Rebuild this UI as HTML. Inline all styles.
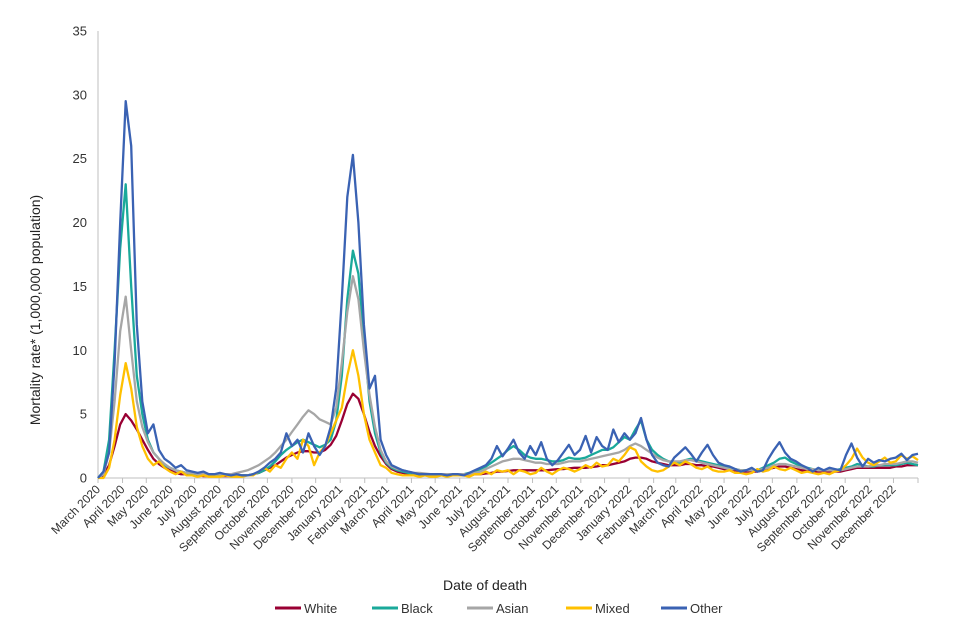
<!DOCTYPE html>
<html><head><meta charset="utf-8"><style>
body{margin:0;background:#fff;}
svg{display:block;font-family:"Liberation Sans",Arial,sans-serif;}
</style></head><body>
<svg id="chart" width="960" height="640">
<g id="axes"></g>
<g id="series"></g>
<text x="485" y="590" text-anchor="middle" font-size="14" fill="#222">Date of death</text>
<text transform="translate(40,310) rotate(-90)" text-anchor="middle" font-size="14" fill="#222">Mortality rate* (1,000,000 population)</text>
<g id="legend"></g>
</svg>
<script>
const months=["March 2020","April 2020","May 2020","June 2020","July 2020","August 2020","September 2020","October 2020","November 2020","December 2020","January 2021","February 2021","March 2021","April 2021","May 2021","June 2021","July 2021","August 2021","September 2021","October 2021","November 2021","December 2021","January 2022","February 2022","March 2022","April 2022","May 2022","June 2022","July 2022","August 2022","September 2022","October 2022","November 2022","December 2022"];
const monthStartDays=[0,31,61,92,122,153,184,214,245,275,306,337,365,396,426,457,487,518,549,579,610,640,671,702,730,761,791,822,852,883,914,944,975,1005,1036];
const yTicks=[0,5,10,15,20,25,30,35];
const seriesNames=["White","Black","Asian","Mixed","Other"];
const seriesColors=["#990033","#1aa99a","#a6a6a6","#ffc000","#3a62b3"];
const white=[0,0.2,1,2.5,4.2, 5,4.5,3.8,3, 2.2,1.5,1.1,0.8,0.6, 0.4,0.3,0.3,0.2, 0.2,0.15,0.15,0.15, 0.15,0.15,0.15,0.15,0.2, 0.2,0.3,0.4,0.6, 0.8,1.0,1.3,1.6, 1.8,2.0,2.1,2.1,2.0, 2.0,2.2,2.6,3.3, 4.5,5.8,6.6,6.2,5.0, 3.6,2.5,1.7,1.1, 0.7,0.5,0.4,0.3, 0.25,0.2,0.2,0.2, 0.2,0.2,0.2,0.2,0.2, 0.2,0.25,0.3,0.3, 0.35,0.4,0.5,0.5, 0.55,0.6,0.6,0.6,0.6, 0.6,0.6,0.6,0.65, 0.7,0.7,0.75,0.8, 0.8,0.8,0.85,0.9,1.0, 1.0,1.1,1.2,1.3, 1.5,1.6,1.6,1.5, 1.3,1.2,1.1,1.0, 1.0,1.0,1.1,1.1,1.0, 1.0,0.9,0.9,0.8, 0.7,0.6,0.6,0.5,0.5, 0.5,0.5,0.6,0.7, 0.8,0.9,0.9,0.8, 0.7,0.6,0.6,0.5,0.5, 0.5,0.5,0.5,0.5, 0.6,0.7,0.8,0.8, 0.8,0.8,0.8,0.8,0.8, 0.9,0.9,1.0,1.0,1.0];
const black=[0,0.5,3,10,18, 23,15,8,5, 3,2,1.5,1,0.8, 0.6,0.5,0.4,0.3, 0.3,0.2,0.2,0.2, 0.2,0.2,0.2,0.2,0.2, 0.2,0.3,0.4,0.6, 0.9,1.3,1.8,2.2, 2.5,2.8,3.0,2.8,2.6, 2.4,2.6,3.0,4.5, 8,14,17.8,16,11, 6,3.5,2,1.2, 0.8,0.6,0.5,0.4, 0.3,0.3,0.3,0.3, 0.3,0.3,0.3,0.3,0.3, 0.3,0.4,0.5,0.7, 0.9,1.2,1.5,1.8, 2.2,2.5,2.2,1.8,1.6, 1.5,1.5,1.4,1.3, 1.3,1.4,1.6,1.5, 1.5,1.6,1.8,2.0,2.2, 2.2,2.4,2.8,3.2, 3.0,3.8,4.5,3.0, 2.2,1.8,1.5,1.3, 1.2,1.2,1.4,1.5,1.4, 1.3,1.2,1.1,1.0, 0.9,0.8,0.7,0.6,0.6, 0.6,0.6,0.8,1.0, 1.2,1.5,1.6,1.3, 1.1,0.9,0.8,0.7,0.6, 0.6,0.6,0.6,0.7, 0.8,0.9,1.1,1.0, 0.9,0.9,1.0,1.0,1.0, 1.0,1.1,1.2,1.1,1.0];
const asian=[0,0.3,2,6,11.5, 14.2,10,6,4, 2.8,2.0,1.5,1.1,0.8, 0.6,0.5,0.4,0.4, 0.3,0.3,0.3,0.3, 0.3,0.3,0.3,0.4,0.5, 0.6,0.8,1.0,1.3, 1.6,2.0,2.5,3.0, 3.6,4.2,4.8,5.3,5.0, 4.6,4.4,4.2,5.5, 9,13,15.8,14,10, 6.5,4,2.2,1.3, 0.9,0.7,0.6,0.5, 0.4,0.4,0.35,0.3, 0.3,0.3,0.3,0.3,0.3, 0.3,0.3,0.4,0.5, 0.7,0.9,1.1,1.3, 1.4,1.5,1.5,1.4,1.3, 1.2,1.2,1.1,1.1, 1.1,1.2,1.3,1.3, 1.3,1.4,1.5,1.6,1.7, 1.8,1.9,2.0,2.2, 2.5,2.7,2.5,2.2, 1.9,1.6,1.4,1.3, 1.3,1.3,1.4,1.4,1.3, 1.2,1.1,1.0,0.9, 0.8,0.7,0.7,0.6,0.6, 0.6,0.6,0.7,0.8, 1.0,1.1,1.1,1.0, 0.9,0.8,0.7,0.7,0.6, 0.6,0.6,0.6,0.6, 0.7,0.8,0.9,0.9, 0.9,1.0,1.0,1.1,1.1, 1.1,1.2,1.3,1.3,1.2];
const mixed=[0,0,0.8,3,6.5, 9,7,4,2.5, 1.5,1.0,1.3,0.8,0.5, 0.3,0.5,0.2,0.2, 0.1,0.2,0.1,0.1, 0.1,0.2,0.1,0.1,0.1, 0.2,0.2,0.5,0.8, 0.5,1.0,0.8,1.5, 2.0,1.5,3.0,2.5,1.0, 2.0,2.5,3.5,4.5, 5.5,8,10,8,5, 3,2,1,0.8, 0.4,0.3,0.2,0.2, 0.2,0.1,0.2,0.1, 0.1,0.2,0.1,0.2,0.2, 0.2,0.1,0.3,0.3, 0.5,0.3,0.6,0.5, 0.6,0.3,0.6,0.5,0.3, 0.4,0.8,0.5,0.3, 0.6,0.8,0.7,0.5, 0.7,1.0,0.8,1.2,0.9, 1.0,1.5,1.3,1.8, 2.4,2.2,1.3,0.9, 0.6,0.5,0.6,0.9, 1.2,1.0,1.3,1.1,0.8, 0.7,0.9,0.6,0.5, 0.5,0.6,0.4,0.4,0.3, 0.4,0.7,0.5,0.6, 0.9,0.7,0.6,0.8, 0.6,0.4,0.5,0.4,0.3, 0.4,0.3,0.5,0.6, 1.0,1.5,2.3,1.6, 1.2,1.0,1.3,1.6,1.2, 1.3,1.8,1.5,1.7,1.4];
const other=[0,0.5,2,9,20, 29.5,26,12,6, 3.5,4.2,2.2,1.5,1.2, 0.8,1.0,0.6,0.5, 0.4,0.5,0.3,0.3, 0.4,0.3,0.2,0.3,0.2, 0.2,0.3,0.5,0.8, 1.2,1.5,2.0,3.5, 2.5,3.0,2.0,3.5,2.5, 1.8,2.5,4,7, 14,22,25.3,20,12, 7,8,3,1.8, 1.0,0.8,0.6,0.5, 0.4,0.3,0.3,0.3, 0.3,0.3,0.2,0.3,0.3, 0.2,0.4,0.6,0.8, 1.0,1.5,2.5,1.7, 2.3,3.0,2.0,1.5,2.5, 1.8,2.8,1.5,1.0, 1.4,2.0,2.6,1.8, 2.2,3.3,2.0,3.2,2.5, 2.2,3.8,2.8,3.5, 3.0,3.5,4.7,3.0, 1.8,1.2,1.0,0.9, 1.6,2.0,2.4,1.9,1.3, 2.0,2.6,1.8,1.2, 1.0,0.9,0.7,0.5,0.6, 0.8,0.5,0.6,1.5, 2.2,2.8,2.0,1.5, 1.3,1.0,0.8,0.5,0.8, 0.6,0.8,0.7,0.6, 1.8,2.7,1.6,0.9, 1.5,1.2,1.4,1.3,1.5, 1.6,1.9,1.4,1.8,1.9];
const allSeries=[white,black,asian,mixed,other];

const NS="http://www.w3.org/2000/svg";
const X0=98,X1=918,Y0=478,Y1=31,TOTAL=1036,YMAX=35;
function xScale(d){return X0+(d/TOTAL)*(X1-X0);}
function yScale(v){return Y0-(v/YMAX)*(Y0-Y1);}
function mk(tag,attrs,parent){const e=document.createElementNS(NS,tag);for(const k in attrs)e.setAttribute(k,attrs[k]);parent.appendChild(e);return e;}
const axes=document.getElementById('axes');
const yAxisLine=mk('line',{x1:X0,y1:Y1,x2:X0,y2:Y0,stroke:'#bfbfbf','stroke-width':1},axes);


const xAxisLine=mk('line',{x1:X0,y1:Y0,x2:X1,y2:Y0,stroke:'#bfbfbf','stroke-width':1},axes);


yTicks.forEach(v=>{
  const t=mk('text',{x:X0-11,y:yScale(v)+4.5,'text-anchor':'end','font-size':13,fill:'#333'},axes);
  t.textContent=v;
  
  
});
monthStartDays.forEach(d=>{
  const tk=mk('line',{x1:xScale(d),y1:Y0,x2:xScale(d),y2:Y0+5,stroke:'#bfbfbf','stroke-width':1},axes);
  
  
});
months.forEach((m,i)=>{
  const x=xScale(monthStartDays[i])+3,y=490;
  const t=mk('text',{x:x,y:y,'text-anchor':'end','font-size':12,fill:'#333',transform:`rotate(-45 ${x} ${y})`},axes);
  t.textContent=m;
  
  
});
const sg=document.getElementById('series');
allSeries.forEach((arr,si)=>{
  const pts=arr.map((v,i)=>xScale(Math.min(i*7,TOTAL)).toFixed(1)+','+yScale(v).toFixed(1)).join(' ');
  const pl=mk('polyline',{points:pts,fill:'none',stroke:seriesColors[si],'stroke-width':2.3,'stroke-linejoin':'round'},sg);
  
  
});
const lg=document.getElementById('legend');
const legendX=[275,372,467,566,661];
seriesNames.forEach((n,i)=>{
  const g=mk('g',{},lg);
  
  
  mk('line',{x1:legendX[i],y1:608,x2:legendX[i]+26,y2:608,stroke:seriesColors[i],'stroke-width':3},g);
  const t=mk('text',{x:legendX[i]+29,y:613,'font-size':13,fill:'#333'},g);
  t.textContent=n;
});
</script>
</body></html>
